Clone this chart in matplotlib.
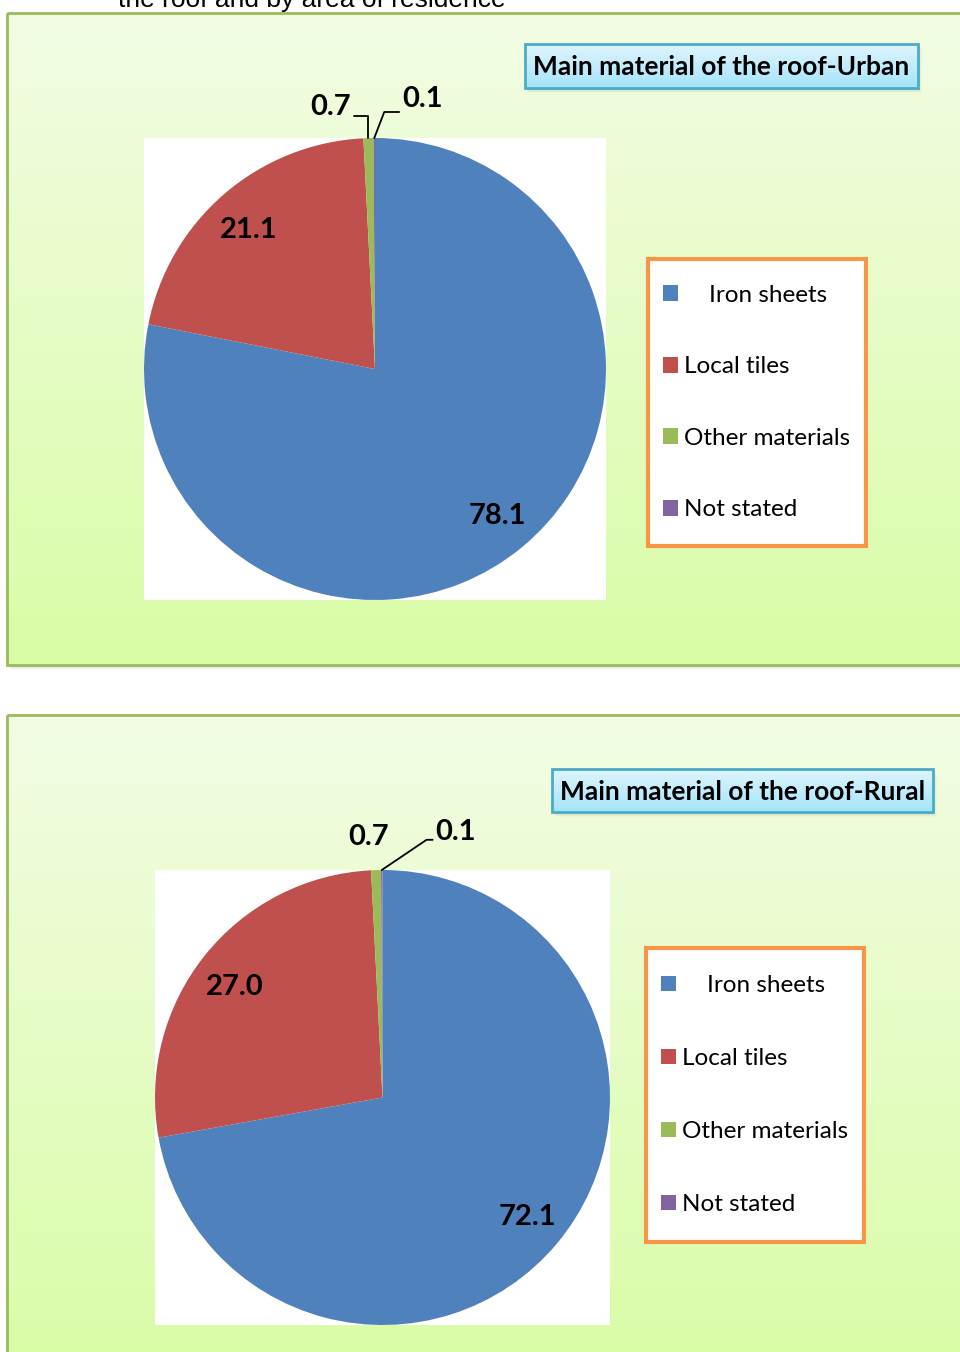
import numpy as np
import matplotlib
matplotlib.use("Agg")
import matplotlib.pyplot as plt
from matplotlib.patches import Rectangle
from matplotlib.colors import to_rgb

plt.rcParams['font.family'] = ['Lato', 'DejaVu Sans']

# data
categories = ['Iron sheets', 'Local tiles', 'Other materials', 'Not stated']
urban = [78.1, 21.1, 0.7, 0.1]
rural = [72.1, 27.0, 0.7, 0.1]
titles = ['Main material of the roof-Urban', 'Main material of the roof-Rural']
heading = 'the roof and by area of residence'
colors = ['#4F81BD', '#C0504D', '#9BBB59', '#8064A2']

W, H = 960, 1352
fig = plt.figure(figsize=(W / 100, H / 100), dpi=100)
fig.patch.set_facecolor('white')

bg = fig.add_axes([0, 0, 1, 1])
bg.set_xlim(0, W)
bg.set_ylim(H, 0)
bg.axis('off')


def gradient(ax, x0, x1, y0, y1, c_top, c_bot, z=1):
    a, b = np.array(to_rgb(c_top)), np.array(to_rgb(c_bot))
    t = np.linspace(0, 1, 256)[:, None, None]
    img = a * (1 - t) + b * t
    ax.imshow(img, extent=(x0, x1, y1, y0), aspect='auto', zorder=z,
              interpolation='bilinear')


def shadow(ax, x0, x1, y0, y1, z=0):
    for i, al in enumerate([0.10, 0.08, 0.06, 0.04]):
        ax.add_patch(Rectangle((x0 + 1 + i, y0 + 2 + i), x1 - x0, y1 - y0,
                               facecolor='#808080', alpha=al, lw=0, zorder=z))


def panel(y0, y1):
    shadow(bg, 7, 975, y0, y1)
    gradient(bg, 7, 975, y0, y1, '#F2FDE4', '#D9FCA6')
    bg.add_patch(Rectangle((7, y0), 968, y1 - y0, facecolor='none',
                           edgecolor='#9BBB59', lw=2, zorder=2))


def title_box(x0, x1, y0, y1, text):
    shadow(bg, x0, x1, y0, y1, z=2)
    gradient(bg, x0, x1, y0, y1, '#DFF5FD', '#A4E4FA', z=3)
    bg.add_patch(Rectangle((x0, y0), x1 - x0, y1 - y0, facecolor='none',
                           edgecolor='#4BACC6', lw=2, zorder=4))
    bg.text((x0 + x1) / 2, (y0 + y1) / 2 + 1, text, ha='center', va='center',
            fontsize=19, fontweight='bold', color='black', zorder=5)


def legend_box(x0, x1, y0, y1, wedges, spacing):
    bg.add_patch(Rectangle((x0, y0), x1 - x0, y1 - y0, facecolor='white',
                           edgecolor='#F79646', lw=3, zorder=3))
    labels = ['    ' + categories[0]] + categories[1:]
    fig.legend(wedges, labels, loc='center left',
               bbox_to_anchor=((x0 + 15) / W, 1 - (y0 + y1) / 2 / H),
               frameon=False, fontsize=17.5, handlelength=0.62,
               handleheight=0.62, handletextpad=0.25, labelspacing=spacing,
               borderpad=0, borderaxespad=0)


def draw_pie(rect, vals, small):
    ax = fig.add_axes(rect)
    wedges, _ = ax.pie(vals, colors=colors, startangle=90, counterclock=False,
                       wedgeprops=dict(linewidth=0))
    ax.set_xlim(-1, 1)
    ax.set_ylim(-1, 1)
    ax.set_frame_on(True)
    ax.set_facecolor('white')
    for s in ax.spines.values():
        s.set_visible(False)
    for w, v in zip(wedges[:2], vals[:2]):
        ang = np.deg2rad((w.theta1 + w.theta2) / 2 + 1)
        ax.text(0.82 * np.cos(ang), 0.82 * np.sin(ang), f'{v:.1f}',
                ha='center', va='center_baseline', fontsize=21,
                fontweight='bold')
    for w, v, (off, conn, rp) in zip(wedges[2:], vals[2:], small):
        ang = np.deg2rad((w.theta1 + w.theta2) / 2)
        ap = None
        if conn is not None:
            ap = dict(arrowstyle='-', lw=1.3, color='black', shrinkA=0,
                      shrinkB=0, connectionstyle=conn, relpos=rp)
        ax.annotate(f'{v:.1f}', xy=(np.cos(ang), np.sin(ang)), xytext=off,
                    textcoords='offset pixels', ha='center', va='center',
                    fontsize=21, fontweight='bold', arrowprops=ap,
                    annotation_clip=False)
    return wedges


# heading, cut at the top edge as in the source page
fig.text(118 / W, 1 - 7 / H, heading, fontsize=19, family='Liberation Sans',
         va='baseline', ha='left')

# top panel
panel(13, 665)
title_box(525, 918, 44, 88, titles[0])
w1 = draw_pie([144 / W, 1 - 600 / H, 462 / W, 462 / H], urban,
              [((-38, 31), 'angle,angleA=0,angleB=90,rad=0', (1.0, 0.15)),
               ((48, 39), 'angle,angleA=0,angleB=69,rad=0', (0.0, 0.0))])
legend_box(648, 866, 259, 546, w1, 2.08)

# bottom panel
panel(715, 1370)
title_box(552, 933, 769, 812, titles[1])
w2 = draw_pie([155 / W, 1 - 1325 / H, 455 / W, 455 / H], rural,
              [((-7, 33), None, None),
               ((74, 38), 'angle,angleA=0,angleB=34,rad=0', (0.0, 0.2))])
legend_box(646, 864, 948, 1242, w2, 2.14)

fig.savefig('out.png', dpi=100)
